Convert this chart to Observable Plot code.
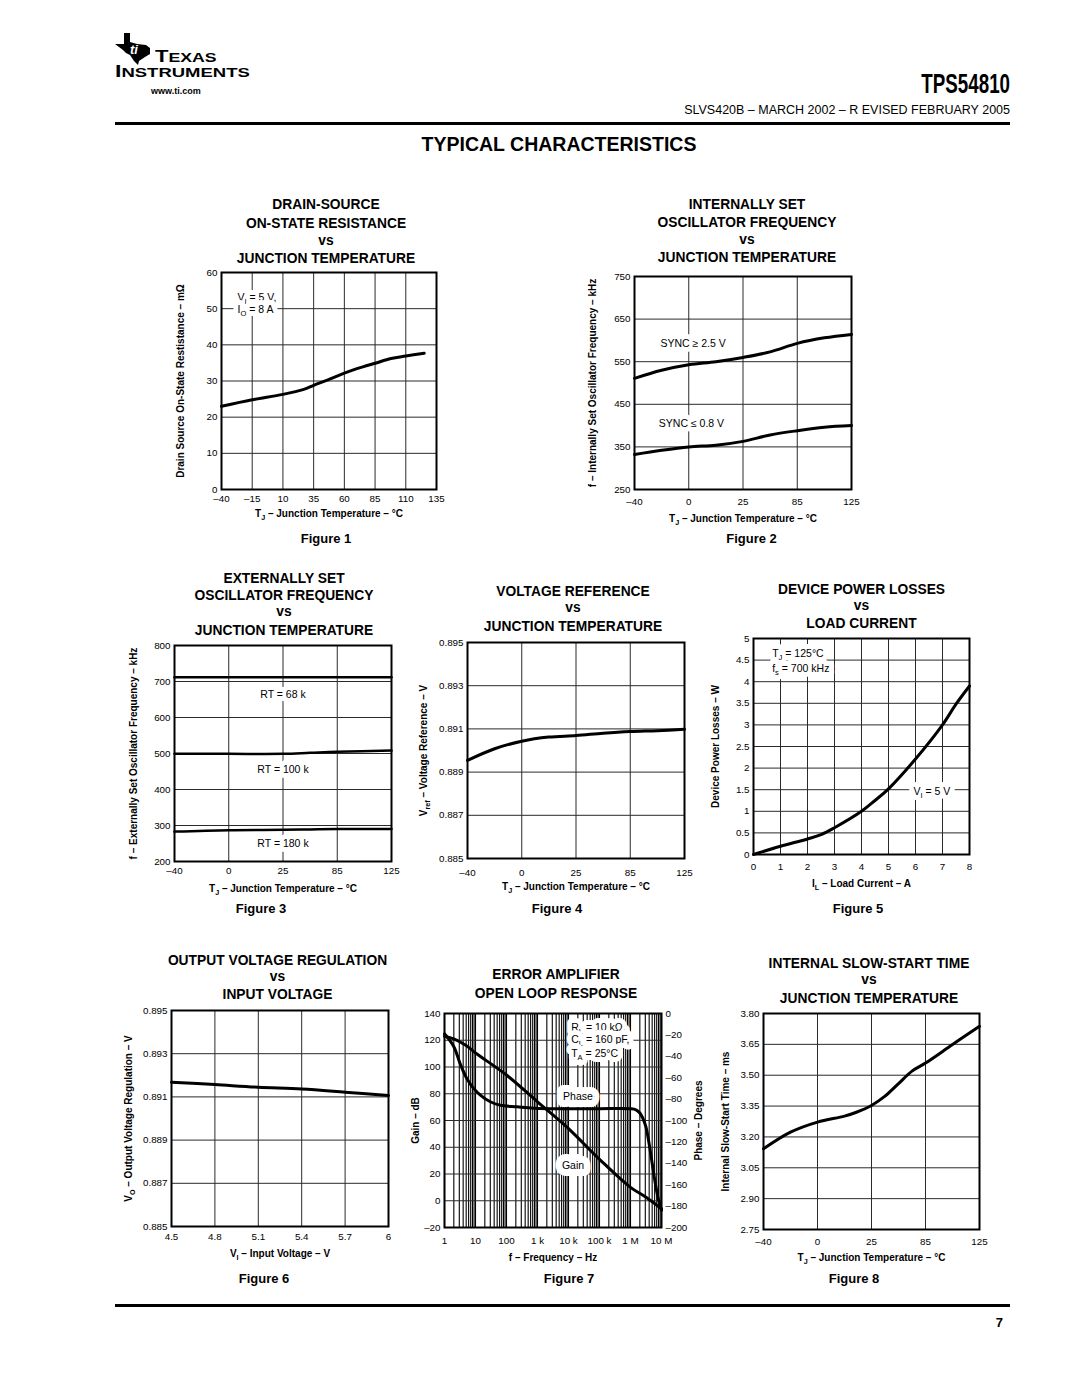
<!DOCTYPE html>
<html><head><meta charset="utf-8">
<script src="https://cdn.jsdelivr.net/npm/d3@7"></script>
<script src="https://cdn.jsdelivr.net/npm/@observablehq/plot@0.6"></script>
<style>
html,body{margin:0;padding:0;background:#fff;}
#page{position:relative;width:1080px;height:1397px;background:#fff;overflow:hidden;font-family:"Liberation Sans",Arial,Helvetica,sans-serif;color:#000;}
.t{position:absolute;white-space:nowrap;line-height:1;}
.rule{position:absolute;background:#000;}
</style></head><body><div id="page"></div>
<script>
// ================= DATA =================
// Figure 1 – drain-source on-state resistance (mΩ) vs junction temperature (°C)
const f1Temp = [-40, -15, 10, 27, 35, 48, 60, 75, 85, 98, 110, 125];
const f1Rds  = [23.0, 24.8, 26.3, 27.7, 28.8, 30.5, 32.2, 33.9, 34.9, 36.2, 36.9, 37.7];
const f1XTicks = [-40, -15, 10, 35, 60, 85, 110, 135];
const f1YTicks = [0, 10, 20, 30, 40, 50, 60];

// Shared junction-temperature axis (non-linear, equally spaced ticks)
const tjTicks = [-40, 0, 25, 85, 125];

// Figure 2 – internally set oscillator frequency (kHz)
const f2Temp = [-40, -20, 0, 12.5, 25, 55, 85, 105, 125];
const f2SyncHigh = [511, 530, 543, 550, 560, 573, 593, 606, 614];
const f2SyncLow  = [332, 342, 350, 354, 363, 378, 388, 396, 400];
const f2YTicks = [250, 350, 450, 550, 650, 750];

// Figure 3 – externally set oscillator frequency (kHz)
const f3Temp  = [-40, 0, 25, 55, 85, 125];
const f3RT68  = [712, 712, 712, 712, 712, 712];
const f3RT100 = [499, 499, 499, 502, 505, 508];
const f3RT180 = [283, 287, 288, 289, 290, 290];
const f3YTicks = [200, 300, 400, 500, 600, 700, 800];

// Figure 4 – voltage reference (V)
const f4Temp = [-40, -20, 0, 12.5, 25, 55, 85, 105, 125];
const f4Vref = [0.88954, 0.89008, 0.89043, 0.89062, 0.89069, 0.89080, 0.89088, 0.89092, 0.89098];
const vTicks = [0.885, 0.887, 0.889, 0.891, 0.893, 0.895];

// Figure 5 – device power losses (W) vs load current (A)
const f5Current = [0, 1, 2, 2.5, 3, 4, 4.5, 5, 6, 7, 7.5, 8];
const f5Loss    = [0, 0.19, 0.36, 0.46, 0.62, 1.0, 1.25, 1.52, 2.21, 3.0, 3.48, 3.9];
const f5XTicks = [0, 1, 2, 3, 4, 5, 6, 7, 8];
const f5YTicks = [0, 0.5, 1, 1.5, 2, 2.5, 3, 3.5, 4, 4.5, 5];

// Figure 6 – output voltage regulation (V) vs input voltage (V)
const f6Vin  = [4.5, 4.8, 5.1, 5.4, 5.7, 6.0];
const f6Vout = [0.89168, 0.89157, 0.89145, 0.89137, 0.89122, 0.89106];
const f6XTicks = [4.5, 4.8, 5.1, 5.4, 5.7, 6];

// Figure 7 – error amplifier open loop response
const f7GainFreq = [1, 2, 5, 10, 100, 1e3, 1e4, 1e5, 1e6, 3e6, 1e7];
const f7Gain     = [123, 121, 116, 110.5, 94, 74, 54, 31, 10, 3, -6];
const f7PhaseFreq = [1, 2, 3.2, 5.3, 8.7, 14, 30, 63, 220, 760, 1e4, 1e5, 1e6, 1.5e6, 2e6, 3e6, 4e6, 5e6, 6e6, 7e6, 8e6, 1e7];
const f7Phase     = [-19, -31, -47, -61, -70, -76, -82.5, -85.7, -87.2, -88.5, -89, -89, -89, -90, -93, -104, -122, -140, -155, -166, -174, -184];
const f7Decades = [1, 10, 100, 1e3, 1e4, 1e5, 1e6, 1e7];
const f7DecadeLabels = ["1", "10", "100", "1 k", "10 k", "100 k", "1 M", "10 M"];
const f7Multiples = [1, 2, 3, 4, 5, 6, 7, 8, 9];
const f7GainTicks = [-20, 0, 20, 40, 60, 80, 100, 120, 140];
const f7PhaseTicks = [0, -20, -40, -60, -80, -100, -120, -140, -160, -180, -200];
const f7GainDomain = [-20, 140];
const f7PhaseDomain = [-200, 0];

// Figure 8 – internal slow-start time (ms)
const f8Temp = [-40, -20, 0, 12.5, 18, 25, 40, 55, 70, 85, 105, 125];
const f8Time = [3.142, 3.223, 3.272, 3.301, 3.32, 3.353, 3.398, 3.459, 3.520, 3.559, 3.649, 3.738];
const f8YTicks = [2.75, 2.90, 3.05, 3.20, 3.35, 3.50, 3.65, 3.80];

// ================= HELPERS =================
const FONT = '"Liberation Sans", Arial, Helvetica, sans-serif';
const GRID = "#2a2a2a";
const page = document.getElementById("page");
const dash = v => v < 0 ? "\u2013" + Math.abs(v) : String(v);
const f3 = d3.format(".3f"), f2 = d3.format(".2f");
const ident = d => d;
// the datasheet's temperature axis places its ticks equally spaced: map °C -> tick-slot position
const tjPos = d3.scaleLinear().domain(tjTicks).range(tjTicks.map((_, i) => i));
const tjDomain = [0, tjTicks.length - 1];

function html(s, x, base, {size = 12, weight = "normal", align = "left", sx = 1} = {}) {
  const d = document.createElement("div");
  d.className = "t";
  d.innerHTML = s;
  d.style.fontSize = size + "px";
  d.style.fontWeight = weight;
  d.style.top = (base - 0.8465 * size) + "px";
  d.style.left = x + "px";
  const tx = align === "center" ? "-50%" : align === "right" ? "-100%" : "0";
  d.style.transformOrigin = align === "center" ? "50% 0" : align === "right" ? "100% 0" : "0 0";
  d.style.transform = `translateX(${tx}) scaleX(${sx})`;
  page.appendChild(d);
  return d;
}
function rule(x0, x1, y, h) {
  const d = document.createElement("div");
  d.className = "rule";
  d.style.left = x0 + "px"; d.style.width = (x1 - x0) + "px";
  d.style.top = (y - h / 2) + "px"; d.style.height = h + "px";
  page.appendChild(d);
}
function title(lines, cx, cys) {
  const size = 13.8;
  lines.forEach((s, i) => {
    const lower = s === "vs";
    html(s, cx, cys[i] + (lower ? 0.26 : 0.358) * size, {size, weight: "bold", align: "center"});
  });
}
function figLabel(s, cx, cy) { html(s, cx, cy + 0.358 * 13, {size: 13, weight: "bold", align: "center"}); }

function subscripts(svg) {
  const ns = "http://www.w3.org/2000/svg";
  svg.querySelectorAll("text").forEach(t => {
    const s = t.textContent;
    if (!s.includes("_{")) return;
    while (t.firstChild) t.removeChild(t.firstChild);
    const fs = parseFloat(getComputedStyle(t).fontSize) || 10;
    const SH = 0.28 * fs;
    const add = (str, dy, small) => {
      const ts = document.createElementNS(ns, "tspan");
      ts.textContent = str;
      if (dy) ts.setAttribute("dy", dy);
      if (small) ts.setAttribute("font-size", (fs * 0.72) + "px");
      t.appendChild(ts);
    };
    const re = /_\{([^}]*)\}/g;
    let last = 0, m, down = false;
    while ((m = re.exec(s))) {
      const before = s.slice(last, m.index);
      if (before) { add(before, down ? -SH : 0, false); down = false; }
      add(m[1], down ? 0 : SH, true); down = true;
      last = re.lastIndex;
    }
    const rest = s.slice(last);
    if (rest) add(rest, down ? -SH : 0, false);
  });
}

function chart({frame, x = {}, y = {}, marks, mL = 70, mR = 20, mT = 12, mB = 45}) {
  const [x0, x1, y0, y1] = frame;
  const W = x1 - x0, H = y1 - y0;
  const svg = Plot.plot({
    width: W + mL + mR, height: H + mT + mB,
    marginLeft: mL, marginRight: mR, marginTop: mT, marginBottom: mB,
    x: {axis: null, ...x}, y: {axis: null, ...y},
    style: {fontFamily: FONT, fontSize: "9.8px", color: "#000", background: "transparent", overflow: "visible"},
    marks
  });
  svg.style.position = "absolute";
  svg.style.left = (x0 - mL) + "px";
  svg.style.top = (y0 - mT) + "px";
  page.appendChild(svg);
  subscripts(svg);
}

const TICK = 9.8;
const grid = (xt, yt, xf = ident, stroke = GRID) => [
  Plot.ruleX(xt, {x: xf, stroke, strokeWidth: 1}),
  Plot.ruleY(yt, {y: ident, stroke, strokeWidth: 1})
];
const line = (xv, yv, opts = {}) =>
  Plot.line(xv.map((v, i) => ({x: v, y: yv[i]})), {x: "x", y: "y", stroke: "#000", strokeWidth: 3, curve: "catmull-rom", ...opts});
const frameMark = () => Plot.frame({stroke: "#000", strokeWidth: 2});
const xLabels = (ticks, fmt, dy, xf = ident) => Plot.text(ticks, {x: xf, text: fmt, frameAnchor: "bottom", textAnchor: "middle", lineAnchor: "middle", dy, fontSize: TICK});
const yLabels = (ticks, fmt, dx = -4) => Plot.text(ticks, {y: ident, text: fmt, frameAnchor: "left", textAnchor: "end", lineAnchor: "middle", dx, fontSize: TICK});
const xTitle = (s, dy) => Plot.text([s], {text: ident, frameAnchor: "bottom", textAnchor: "middle", lineAnchor: "middle", dy, fontWeight: "bold", fontSize: 10});
const yTitle = (s, dx, anchor = "left") => Plot.text([s], {text: ident, frameAnchor: anchor, textAnchor: "middle", lineAnchor: "middle", rotate: -90, dx, fontWeight: "bold", fontSize: 10});
const note = (s, dx, dy, {anchor = "start", frameAnchor = "top-left", size = 10.5, halo = 10} = {}) => {
  const o = {text: ident, frameAnchor, textAnchor: anchor, lineAnchor: "middle", dx, dy, fontSize: size};
  return [
    Plot.text([s], {...o, fill: "#fff", stroke: "#fff", strokeWidth: halo, strokeLinejoin: "round"}),
    Plot.text([s], {...o, fill: "#000"})
  ];
};
const TJ = "T_{J} \u2013 Junction Temperature \u2013 \u00b0C";

// ================= HEADER =================
(function logo() {
  const ns = "http://www.w3.org/2000/svg";
  const s = document.createElementNS(ns, "svg");
  s.setAttribute("width", 38); s.setAttribute("height", 32);
  s.style.cssText = "position:absolute;left:115px;top:33px;";
  s.innerHTML = '<path d="M9,0 L15,0 L15,9 L22,11 L31,12 L35,15 L35,21 L30,24 L24,28 L23,32 L19,28 L15,22 L11,20 L8,17 L4,14 L0,11 L9,11 Z" fill="#000"/>' +
    '<text x="19" y="21" font-family="Liberation Sans, Arial" font-weight="bold" font-style="italic" font-size="13" fill="#fff" text-anchor="middle">ti</text>';
  page.appendChild(s);
})();
html('T<span style="font-size:13.6px">EXAS</span>', 155, 62, {size: 17, sx: 1.3, weight: "bold"});
html('I<span style="font-size:13.6px">NSTRUMENTS</span>', 115, 77, {size: 17, sx: 1.36, weight: "bold"});
html("www.ti.com", 151, 95, {size: 9, weight: "bold"});
html("TPS54810", 1010, 93.5, {size: 28, weight: "bold", align: "right", sx: 0.67});
html("SLVS420B \u2013 MARCH 2002 \u2013 R EVISED FEBRUARY 2005", 1010, 114.5, {size: 12.5, align: "right", sx: 1.0});
rule(115, 1010, 123, 3);
html("TYPICAL CHARACTERISTICS", 559, 152, {size: 19.5, weight: "bold", align: "center"});

// ================= TITLES & CAPTIONS =================
title(["DRAIN-SOURCE", "ON-STATE RESISTANCE", "vs", "JUNCTION TEMPERATURE"], 326, [205, 224, 242, 259]);
title(["INTERNALLY SET", "OSCILLATOR FREQUENCY", "vs", "JUNCTION TEMPERATURE"], 747, [205, 222.7, 240.7, 258]);
title(["EXTERNALLY SET", "OSCILLATOR FREQUENCY", "vs", "JUNCTION TEMPERATURE"], 284, [579, 596, 613, 631]);
title(["VOLTAGE REFERENCE", "vs", "JUNCTION TEMPERATURE"], 573, [591.7, 609, 626.7]);
title(["DEVICE POWER LOSSES", "vs", "LOAD CURRENT"], 861.5, [589.3, 607, 623.3]);
title(["OUTPUT VOLTAGE REGULATION", "vs", "INPUT VOLTAGE"], 277.5, [960.7, 978, 995]);
title(["ERROR AMPLIFIER", "OPEN LOOP RESPONSE"], 556, [975, 993.3]);
title(["INTERNAL SLOW-START TIME", "vs", "JUNCTION TEMPERATURE"], 869, [963.3, 981.5, 998.3]);

figLabel("Figure 1", 326, 538);
figLabel("Figure 2", 751.5, 538);
figLabel("Figure 3", 261, 908);
figLabel("Figure 4", 557, 908);
figLabel("Figure 5", 858, 908);
figLabel("Figure 6", 264, 1278);
figLabel("Figure 7", 569, 1278);
figLabel("Figure 8", 854, 1278);

// ================= CHARTS =================
// Figure 1
chart({frame: [221, 436, 272, 489], x: {domain: [-40, 135]}, y: {domain: [0, 60]}, marks: [
  ...grid(f1XTicks, f1YTicks),
  ...note("V_{I} = 5 V,", 16, 25),
  ...note("I_{O} = 8 A", 16, 37),
  line(f1Temp, f1Rds),
  frameMark(),
  xLabels(f1XTicks, dash, 9.5),
  yLabels(f1YTicks, String),
  xTitle(TJ, 24),
  yTitle("Drain Source On-State Restistance \u2013 m\u03a9", -41)
]});

// Figure 2
chart({frame: [634, 851, 276, 489], x: {domain: tjDomain}, y: {domain: [250, 750]}, marks: [
  ...grid(tjTicks, f2YTicks, tjPos),
  ...note("SYNC \u2265 2.5 V", 26, 66.7),
  ...note("SYNC \u2264 0.8 V", 24.3, 146.7),
  line(f2Temp.map(tjPos), f2SyncHigh),
  line(f2Temp.map(tjPos), f2SyncLow),
  frameMark(),
  xLabels(tjTicks, dash, 12.7, tjPos),
  yLabels(f2YTicks, String),
  xTitle(TJ, 29),
  yTitle("f \u2013 Internally Set Oscillator Frequency \u2013 kHz", -42)
]});

// Figure 3
chart({frame: [174, 391, 645, 861], x: {domain: tjDomain}, y: {domain: [200, 800]}, marks: [
  ...grid(tjTicks, f3YTicks, tjPos),
  ...note("RT = 68 k", 0, 49, {anchor: "middle", frameAnchor: "top"}),
  ...note("RT = 100 k", 0, 124, {anchor: "middle", frameAnchor: "top"}),
  ...note("RT = 180 k", 0, 198, {anchor: "middle", frameAnchor: "top"}),
  line(f3Temp.map(tjPos), f3RT68, {strokeWidth: 2.5}),
  line(f3Temp.map(tjPos), f3RT100, {strokeWidth: 2.5}),
  line(f3Temp.map(tjPos), f3RT180, {strokeWidth: 2.5}),
  frameMark(),
  xLabels(tjTicks, dash, 9.5, tjPos),
  yLabels(f3YTicks, String),
  xTitle(TJ, 27),
  yTitle("f \u2013 Externally Set Oscillator Frequency \u2013 kHz", -41)
]});

// Figure 4
chart({frame: [467, 684, 642, 858], x: {domain: tjDomain}, y: {domain: [0.885, 0.895]}, marks: [
  ...grid(tjTicks, vTicks, tjPos),
  line(f4Temp.map(tjPos), f4Vref),
  frameMark(),
  xLabels(tjTicks, dash, 14.5, tjPos),
  yLabels(vTicks, f3),
  xTitle(TJ, 28),
  yTitle("V_{ref} \u2013 Voltage Reference \u2013 V", -44)
]});

// Figure 5
chart({frame: [753, 969, 638, 854], x: {domain: [0, 8]}, y: {domain: [0, 5]}, marks: [
  ...grid(f5XTicks, f5YTicks),
  ...note("T_{J} = 125\u00b0C", 18.7, 15.3),
  ...note("f_{s} = 700 kHz", 18.7, 30.3),
  ...note("V_{I} = 5 V", 160, 152.7),
  line(f5Current, f5Loss),
  frameMark(),
  xLabels(f5XTicks, String, 12),
  yLabels(f5YTicks, String),
  xTitle("I_{L} \u2013 Load Current \u2013 A", 29),
  yTitle("Device Power Losses \u2013 W", -38)
]});

// Figure 6
chart({frame: [171, 388, 1010, 1226], x: {domain: [4.5, 6]}, y: {domain: [0.885, 0.895]}, marks: [
  ...grid(f6XTicks, vTicks),
  line(f6Vin, f6Vout),
  frameMark(),
  xLabels(f6XTicks, String, 10),
  yLabels(vTicks, f3),
  xTitle("V_{I} \u2013 Input Voltage \u2013 V", 27),
  yTitle("V_{O} \u2013 Output Voltage Regulation \u2013 V", -43)
]});

// Figure 7
const phaseToGain = p => f7GainDomain[0] + (p - f7PhaseDomain[0]) * (f7GainDomain[1] - f7GainDomain[0]) / (f7PhaseDomain[1] - f7PhaseDomain[0]);
const f7Minor = f7Decades.slice(0, -1).flatMap(d => f7Multiples.map(m => m * d)).concat([f7Decades[f7Decades.length - 1]]);
chart({frame: [444, 661, 1013, 1227], mR: 60, x: {type: "log", domain: [1, 1e7]}, y: {domain: f7GainDomain}, marks: [
  Plot.ruleX(f7Minor, {x: ident, stroke: "#000", strokeWidth: 1.1}),
  Plot.ruleY(f7GainTicks, {y: ident, stroke: GRID, strokeWidth: 1}),
  ...note("R_{L} = 10 k\u03a9,", 126.7, 13.7),
  ...note("C_{L} = 160 pF,", 126.7, 26.3),
  ...note("T_{A} = 25\u00b0C", 126.7, 40.3),
  ...note("Phase", 133.5, 82.7, {anchor: "middle", halo: 14}),
  ...note("Gain", 128.5, 152, {anchor: "middle", halo: 14}),
  line(f7GainFreq, f7Gain),
  line(f7PhaseFreq, f7Phase.map(phaseToGain)),
  frameMark(),
  Plot.text(f7Decades, {x: ident, text: (d, i) => f7DecadeLabels[i], frameAnchor: "bottom", textAnchor: "middle", lineAnchor: "middle", dy: 13, fontSize: TICK}),
  yLabels(f7GainTicks, dash),
  Plot.text(f7PhaseTicks, {y: d => phaseToGain(d), text: dash, frameAnchor: "right", textAnchor: "start", lineAnchor: "middle", dx: 4, fontSize: TICK}),
  xTitle("f \u2013 Frequency \u2013 Hz", 30.7),
  yTitle("Gain \u2013 dB", -29),
  yTitle("Phase \u2013 Degrees", 37, "right")
]});

// Figure 8
chart({frame: [763, 979, 1013, 1229], x: {domain: tjDomain}, y: {domain: [2.75, 3.80]}, marks: [
  ...grid(tjTicks, f8YTicks, tjPos),
  line(f8Temp.map(tjPos), f8Time),
  frameMark(),
  xLabels(tjTicks, dash, 12, tjPos),
  yLabels(f8YTicks, f2),
  xTitle(TJ, 28),
  yTitle("Internal Slow-Start Time \u2013 ms", -38)
]});

// ================= FOOTER =================
rule(115, 1010, 1305, 3);
html("7", 1003, 1327, {size: 13, weight: "bold", align: "right"});
</script></body></html>
